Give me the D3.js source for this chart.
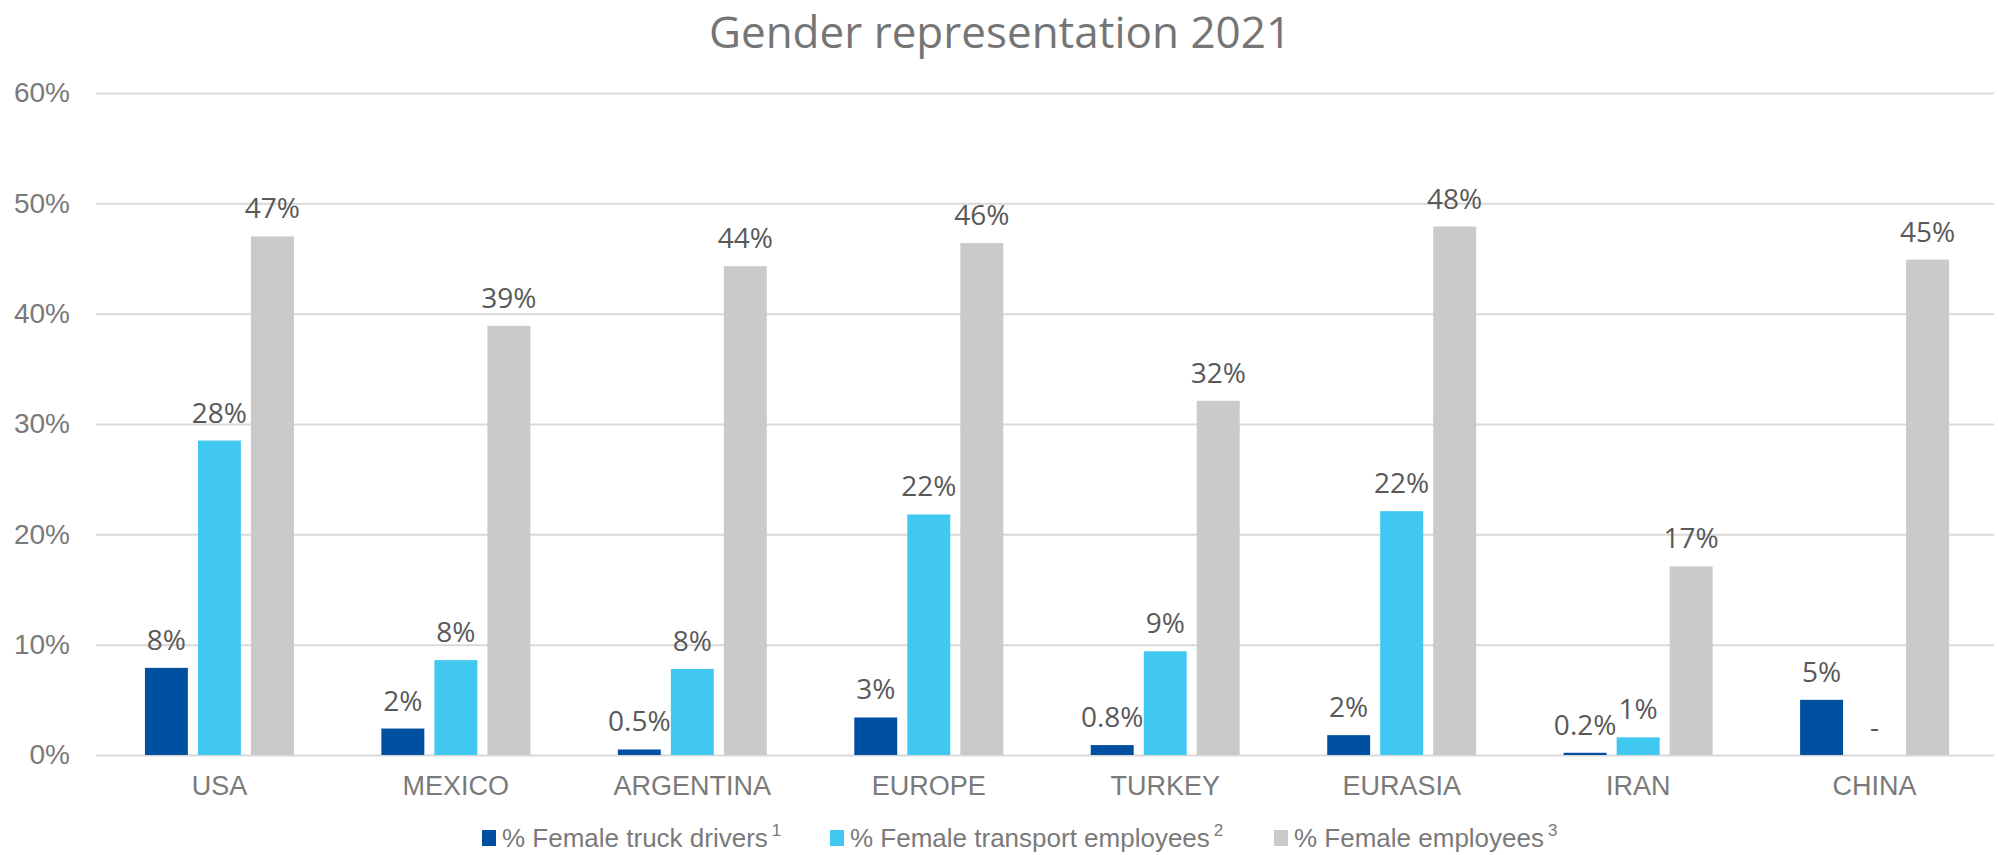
<!DOCTYPE html>
<html>
<head>
<meta charset="utf-8">
<script src="https://cdn.jsdelivr.net/npm/d3@7"></script>
<style>
  body { margin: 0; background: #fff; }
  svg { display: block; }
</style>
</head>
<body>
<div id="chart"></div>
<script>
var svgWidth = 1998, svgHeight = 855;

var categories = ["USA", "MEXICO", "ARGENTINA", "EUROPE", "TURKEY", "EURASIA", "IRAN", "CHINA"];
var seriesNames = ["% Female truck drivers", "% Female transport employees", "% Female employees"];
var seriesNotes = ["1", "2", "3"];
var seriesColors = ["#0050a2", "#41c8f1", "#cacaca"];

// values in percent
var truckDrivers = [7.9, 2.4, 0.5, 3.4, 0.9, 1.8, 0.2, 5.0];
var transportEmployees = [28.5, 8.6, 7.8, 21.8, 9.4, 22.1, 1.6, null];
var allEmployees = [47.0, 38.9, 44.3, 46.4, 32.1, 47.9, 17.1, 44.9];

// printed labels
var truckLabels = ["8%", "2%", "0.5%", "3%", "0.8%", "2%", "0.2%", "5%"];
var transportLabels = ["28%", "8%", "8%", "22%", "9%", "22%", "1%", "-"];
var allLabels = ["47%", "39%", "44%", "46%", "32%", "48%", "17%", "45%"];

var yTicks = [0, 10, 20, 30, 40, 50, 60];

var margin = {top: 93, right: 4, bottom: 100, left: 96};
var width = svgWidth - margin.left - margin.right;
var height = 755 - margin.top;

var values = [truckDrivers, transportEmployees, allEmployees];
var labels = [truckLabels, transportLabels, allLabels];

var data = categories.map(function(c, i) {
    return {
        cat: c,
        bars: seriesNames.map(function(s, j) {
            return {series: j, value: values[j][i], label: labels[j][i]};
        })
    };
});

var x0 = d3.scaleBand().domain(categories).range([4, width])
           .paddingInner(0.37).paddingOuter(0.19);
var x1 = d3.scaleBand().domain([0, 1, 2]).range([0, x0.bandwidth()]).paddingInner(0.19);
var y = d3.scaleLinear().domain([0, 60]).range([height, 0]);

var svg = d3.select("#chart").append("svg")
    .attr("width", svgWidth)
    .attr("height", svgHeight);

// title
svg.append("text")
    .attr("x", 1000)
    .attr("y", 48)
    .attr("text-anchor", "middle")
    .attr("font-family", "'Open Sans', sans-serif")
    .attr("font-size", 44)
    .attr("fill", "#757575")
    .text("Gender representation 2021");

var g = svg.append("g")
    .attr("transform", "translate(" + margin.left + "," + margin.top + ")");

// gridlines + y labels
var yAxis = d3.axisLeft(y).tickValues(yTicks)
    .tickSize(-width).tickPadding(26)
    .tickFormat(function(d) { return d + "%"; });

g.append("g")
    .attr("class", "yAxis")
    .call(yAxis)
    .call(function(a) {
        a.select(".domain").remove();
        a.selectAll("line").attr("stroke", "#d9d9d9").attr("stroke-width", 2);
        a.selectAll("text")
            .attr("font-family", "'Liberation Sans Narrow', 'Liberation Sans', sans-serif")
            .attr("font-size", 28)
            .attr("fill", "#7a7a7a");
    });

// x labels
var xAxis = d3.axisBottom(x0).tickSize(0).tickPadding(21);
g.append("g")
    .attr("class", "xAxis")
    .attr("transform", "translate(0," + height + ")")
    .call(xAxis)
    .call(function(a) {
        a.select(".domain").remove();
        a.selectAll("text")
            .attr("font-family", "'Liberation Sans Narrow', 'Liberation Sans', sans-serif")
            .attr("font-size", 27)
            .attr("fill", "#7a7a7a");
    });

// bars
var groups = g.selectAll(".grp")
    .data(data)
    .enter().append("g")
    .attr("class", "grp")
    .attr("transform", function(d) { return "translate(" + x0(d.cat) + ",0)"; });

groups.selectAll("rect")
    .data(function(d) { return d.bars.filter(function(b) { return b.value != null; }); })
    .enter().append("rect")
    .attr("x", function(b) { return x1(b.series); })
    .attr("width", x1.bandwidth())
    .attr("y", function(b) { return y(b.value); })
    .attr("height", function(b) { return height - y(b.value); })
    .attr("fill", function(b) { return seriesColors[b.series]; });

groups.selectAll(".lbl")
    .data(function(d) { return d.bars; })
    .enter().append("text")
    .attr("class", "lbl")
    .attr("x", function(b) { return x1(b.series) + x1.bandwidth() / 2; })
    .attr("y", function(b) { return y(b.value || 0) - 18; })
    .attr("text-anchor", "middle")
    .attr("font-family", "'Open Sans', sans-serif")
    .attr("font-size", 28)
    .attr("fill", "#595959")
    .text(function(b) { return b.label; });

// legend
var legendX = [482, 830, 1274];
var legend = svg.append("g").attr("transform", "translate(0,838)");
seriesNames.forEach(function(s, i) {
    var item = legend.append("g").attr("transform", "translate(" + legendX[i] + ",0)");
    item.append("rect")
        .attr("x", 0).attr("y", -8)
        .attr("width", 14).attr("height", 16)
        .attr("fill", seriesColors[i]);
    var t = item.append("text")
        .attr("x", 20).attr("y", 9)
        .attr("font-family", "'Liberation Sans Narrow', 'Liberation Sans', sans-serif")
        .attr("font-size", 26)
        .attr("fill", "#7a7a7a")
        .text(s);
    t.append("tspan")
        .attr("dx", 4)
        .attr("dy", -11)
        .attr("font-size", 17)
        .text(seriesNotes[i]);
});
</script>
</body>
</html>
